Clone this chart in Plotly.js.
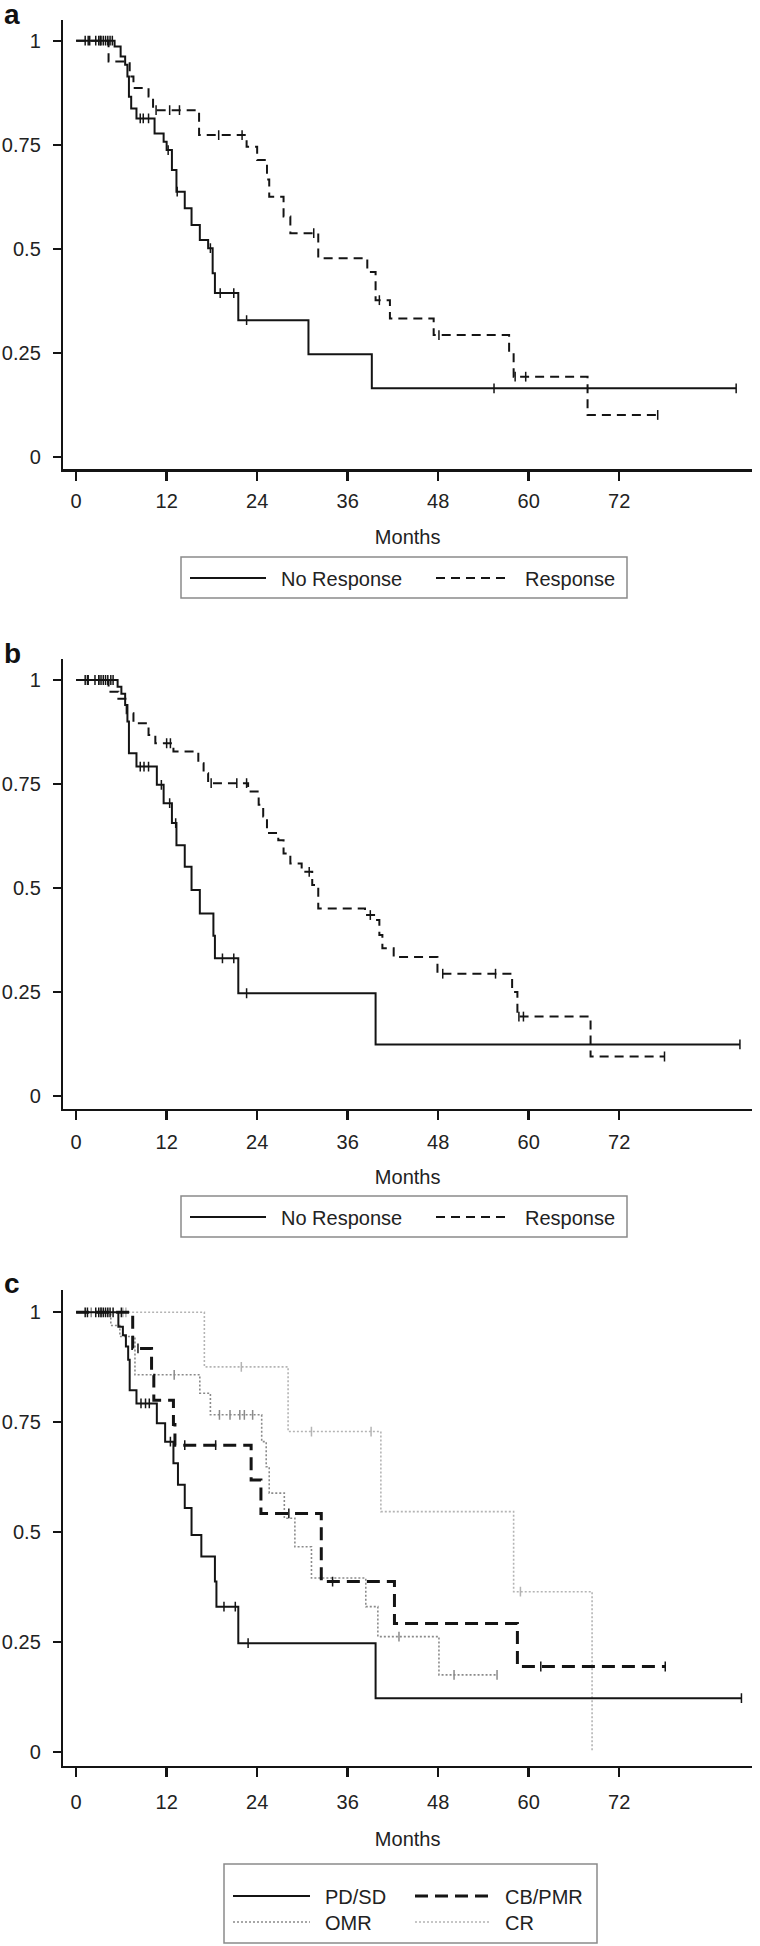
<!DOCTYPE html>
<html>
<head>
<meta charset="utf-8">
<script src="https://cdn.plot.ly/plotly-3.0.1.min.js"></script>
<style>
html,body{margin:0;padding:0;background:#fff;}
#chart{width:760px;height:1946px;}
</style>
</head>
<body>
<div id="chart"></div>
<script>
// ---------- DATA ----------
const xTickVals = [0, 12, 24, 36, 48, 60, 72];
const xTickText = ["0", "12", "24", "36", "48", "60", "72"];
const yTickVals = [0, 0.25, 0.5, 0.75, 1];
const yTickText = ["0", "0.25", "0.5", "0.75", "1"];
const xTitle = "Months";

// Panel a
const aNoRespT = [5.1, 5.9, 6.5, 6.8, 7.0, 7.3, 8.0, 10.4, 11.6, 12.0, 12.7, 13.3, 14.4, 15.3, 16.4, 17.5, 18.1, 18.4, 21.5, 30.8, 39.2];
const aNoRespS = [0.986, 0.962, 0.942, 0.914, 0.865, 0.837, 0.813, 0.777, 0.757, 0.737, 0.689, 0.637, 0.597, 0.557, 0.521, 0.501, 0.441, 0.393, 0.328, 0.246, 0.164];
const aNoRespC = [1.2, 1.6, 2.6, 3.0, 3.3, 3.6, 3.9, 4.2, 4.5, 4.8, 8.5, 8.9, 9.6, 12.2, 13.4, 17.8, 19.1, 20.9, 22.6, 55.4, 87.5];
const aRespT = [4.3, 7.1, 7.6, 9.6, 10.2, 16.3, 22.6, 24.0, 25.3, 25.6, 27.5, 28.4, 32.1, 38.6, 39.7, 41.6, 47.4, 57.4, 58.0, 67.8];
const aRespS = [0.950, 0.914, 0.886, 0.866, 0.833, 0.773, 0.745, 0.713, 0.666, 0.625, 0.577, 0.537, 0.477, 0.444, 0.376, 0.332, 0.292, 0.249, 0.192, 0.100];
const aRespC = [1.8, 3.2, 10.6, 12.4, 13.7, 18.9, 22.0, 31.5, 40.2, 48.1, 58.2, 59.6, 77.1];

// Panel b
const bNoRespT = [5.5, 6.0, 6.5, 6.8, 7.0, 8.0, 10.7, 11.6, 12.7, 13.3, 14.4, 15.3, 16.4, 18.2, 18.4, 21.5, 39.7];
const bNoRespS = [0.984, 0.967, 0.940, 0.900, 0.824, 0.792, 0.748, 0.704, 0.656, 0.603, 0.551, 0.495, 0.439, 0.385, 0.331, 0.247, 0.124];
const bNoRespC = [1.2, 1.6, 2.5, 3.0, 3.3, 3.6, 3.9, 4.2, 4.6, 4.9, 8.5, 9.0, 9.6, 11.3, 12.4, 13.2, 19.4, 20.9, 22.6, 88.0];
const bRespT = [4.3, 5.6, 6.7, 7.6, 9.6, 10.5, 12.9, 16.2, 16.9, 17.5, 22.8, 24.2, 24.8, 25.3, 26.8, 27.5, 28.4, 29.9, 31.3, 32.1, 38.3, 39.7, 40.2, 40.6, 42.1, 47.9, 57.8, 58.5, 68.2];
const bRespS = [0.972, 0.955, 0.920, 0.896, 0.868, 0.848, 0.828, 0.800, 0.776, 0.752, 0.732, 0.700, 0.672, 0.632, 0.615, 0.583, 0.559, 0.539, 0.507, 0.451, 0.435, 0.423, 0.387, 0.355, 0.334, 0.294, 0.250, 0.191, 0.095];
const bRespC = [1.5, 3.0, 12.0, 12.5, 17.9, 21.3, 22.6, 30.9, 39.0, 48.6, 55.6, 58.7, 59.3, 78.0];

// Panel c
const cPdT = [5.6, 6.2, 6.6, 6.9, 7.1, 8.0, 10.7, 11.8, 12.9, 13.5, 14.4, 15.3, 16.6, 18.4, 18.6, 21.5, 39.7];
const cPdS = [0.967, 0.948, 0.922, 0.892, 0.823, 0.793, 0.748, 0.706, 0.657, 0.608, 0.555, 0.494, 0.445, 0.388, 0.331, 0.248, 0.123];
const cPdC = [1.2, 1.5, 2.6, 3.0, 3.3, 3.6, 3.9, 4.2, 4.5, 4.9, 8.6, 9.2, 9.7, 12.5, 19.6, 21.1, 22.8, 88.2];
const cCbT = [7.5, 10.0, 10.3, 12.9, 13.1, 23.2, 24.5, 32.5, 42.2, 58.5];
const cCbS = [0.918, 0.857, 0.800, 0.745, 0.698, 0.619, 0.543, 0.388, 0.293, 0.195];
const cCbC = [6.0, 8.2, 14.4, 18.5, 28.2, 34.0, 61.6, 78.1];
const cOmrT = [4.6, 5.8, 7.8, 16.4, 17.8, 24.6, 25.2, 25.6, 27.6, 29.0, 31.2, 38.4, 40.0, 48.1];
const cOmrS = [0.970, 0.945, 0.858, 0.816, 0.767, 0.706, 0.649, 0.589, 0.532, 0.467, 0.396, 0.331, 0.263, 0.176];
const cOmrC = [2.0, 3.3, 13.0, 19.0, 20.4, 21.7, 22.3, 23.4, 42.8, 50.1, 55.8];
const cCrT = [17.0, 28.1, 40.4, 58.0, 68.4];
const cCrS = [0.876, 0.729, 0.547, 0.365, 0.0];
const cCrC = [6.2, 6.6, 21.9, 31.2, 39.1, 58.9];

const panelLabels = ["a", "b", "c"];
const legendA = ["No Response", "Response"];
const legendC = ["PD/SD", "CB/PMR", "OMR", "CR"];

// ---------- STYLE / LAYOUT ----------
const W = 760, H = 1946;
const FONT = "Liberation Sans, Arial, Helvetica, sans-serif";
const INK = "#141414";
const px = v => v / W;
const py = v => 1 - v / H;

const styles = {
  solid:  {color: INK, width: 2, dash: "solid"},
  dashA:  {color: INK, width: 2, dash: "9px,6px"},
  dashC:  {color: INK, width: 3, dash: "13px,7px"},
  omr:    {color: "#8a8a8a", width: 1.6, dash: "2px,2px"},
  cr:     {color: "#b4b4b4", width: 1.6, dash: "2px,2px"}
};

function survAt(t, T, S) {
  let s = 1;
  for (let i = 0; i < T.length; i++) { if (T[i] <= t) s = S[i]; }
  return s;
}
function kmTraces(T, S, C, st, xa, ya, name) {
  const end = Math.max(T[T.length - 1], ...C);
  const x = [0].concat(T, [end]);
  const y = [1].concat(S, [S[S.length - 1]]);
  return [
    {type: "scatter", mode: "lines", x: x, y: y, xaxis: xa, yaxis: ya, name: name,
     line: {shape: "hv", color: st.color, width: st.width, dash: st.dash}, showlegend: false, hoverinfo: "skip"},
    {type: "scatter", mode: "markers", x: C, y: C.map(t => survAt(t, T, S)), xaxis: xa, yaxis: ya, name: name + " censored",
     marker: {symbol: "line-ns", size: 7, line: {color: st.color, width: 1.5}}, showlegend: false, hoverinfo: "skip"}
  ];
}

const data = [].concat(
  kmTraces(aNoRespT, aNoRespS, aNoRespC, styles.solid, "x", "y", legendA[0]),
  kmTraces(aRespT, aRespS, aRespC, styles.dashA, "x", "y", legendA[1]),
  kmTraces(bNoRespT, bNoRespS, bNoRespC, styles.solid, "x2", "y2", legendA[0]),
  kmTraces(bRespT, bRespS, bRespC, styles.dashA, "x2", "y2", legendA[1]),
  kmTraces(cCrT, cCrS, cCrC, styles.cr, "x3", "y3", legendC[3]),
  kmTraces(cOmrT, cOmrS, cOmrC, styles.omr, "x3", "y3", legendC[2]),
  kmTraces(cCbT, cCbS, cCbC, styles.dashC, "x3", "y3", legendC[1]),
  kmTraces(cPdT, cPdS, cPdC, styles.solid, "x3", "y3", legendC[0])
);

// panel geometry in pixels: [bottom of plot, top of plot]
const panels = [
  {bot: 469.0, top: 19.9},
  {bot: 1108.5, top: 659.2},
  {bot: 1765.5, top: 1290.3}
];
const xDom = [px(63.3), px(752)];

function xAxis(anchor, labelOff, standoff) {
  return {
    domain: xDom, range: [-1.7, 89.6], anchor: anchor,
    showline: true, linewidth: 2.5, linecolor: INK, mirror: false,
    ticks: "outside", ticklen: 9, tickwidth: 2.5, tickcolor: INK,
    tickvals: xTickVals, ticktext: xTickText,
    tickfont: {family: FONT, size: 20, color: "#222"},
    ticklabelstandoff: labelOff,
    showgrid: false, zeroline: false, fixedrange: true,
    title: {text: xTitle, font: {family: FONT, size: 20, color: "#222"}, standoff: standoff}
  };
}
function yAxis(p, anchor) {
  return {
    domain: [py(p.bot), py(p.top)], range: [-0.03, 1.05], anchor: anchor,
    showline: true, linewidth: 2.5, linecolor: INK,
    ticks: "outside", ticklen: 8, tickwidth: 2, tickcolor: INK,
    tickvals: yTickVals, ticktext: yTickText,
    tickfont: {family: FONT, size: 20, color: "#222"},
    ticklabelstandoff: 8,
    showgrid: false, zeroline: false, fixedrange: true
  };
}

const shapes = [];
const annotations = [];

// panel letters
[[653.3 - 639, 0], [653.3, 1], [1283.3, 2]].forEach(([yc, i]) => {
  annotations.push({xref: "paper", yref: "paper", x: px(2), y: py(yc), xanchor: "left", yanchor: "middle",
    text: panelLabels[i], showarrow: false, font: {family: FONT, size: 28, color: "#111", weight: "bold"}});
});

// legends (box, line samples, texts)
function legendBox(x0, y0, x1, y1) {
  shapes.push({type: "rect", xref: "paper", yref: "paper", x0: px(x0), x1: px(x1), y0: py(y1), y1: py(y0),
    line: {color: "#8a8a8a", width: 1.5}, fillcolor: "#fff", layer: "above"});
}
function legendItem(xs, xe, yc, st, label) {
  shapes.push({type: "line", xref: "paper", yref: "paper", x0: px(xs), x1: px(xe), y0: py(yc), y1: py(yc),
    line: {color: st.color, width: st.width, dash: st.dash}, layer: "above"});
  annotations.push({xref: "paper", yref: "paper", x: px(xe + 13), y: py(yc + 1), xanchor: "left", yanchor: "middle",
    text: label, showarrow: false, font: {family: FONT, size: 20, color: "#222"}});
}
[0, 639].forEach(dy => {
  legendBox(181, 557 + dy, 627, 598 + dy);
  legendItem(190, 266, 578 + dy, styles.solid, legendA[0]);
  legendItem(436, 510, 578 + dy, styles.dashA, legendA[1]);
});
legendBox(224, 1864, 597, 1943);
legendItem(233, 310, 1896, styles.solid, legendC[0]);
legendItem(415, 490, 1896, styles.dashC, legendC[1]);
legendItem(233, 310, 1922, styles.omr, legendC[2]);
legendItem(415, 490, 1922, styles.cr, legendC[3]);

const layout = {
  width: W, height: H,
  margin: {l: 0, r: 0, t: 0, b: 0},
  paper_bgcolor: "#fff", plot_bgcolor: "#fff",
  font: {family: FONT, color: "#222"},
  showlegend: false,
  xaxis: xAxis("y", 3, 20), yaxis: yAxis(panels[0], "x"),
  xaxis2: xAxis("y2", 5, 18), yaxis2: yAxis(panels[1], "x2"),
  xaxis3: xAxis("y3", 8, 20), yaxis3: yAxis(panels[2], "x3"),
  shapes: shapes, annotations: annotations
};

Plotly.newPlot("chart", data, layout, {staticPlot: true, displayModeBar: false});
</script>
</body>
</html>
